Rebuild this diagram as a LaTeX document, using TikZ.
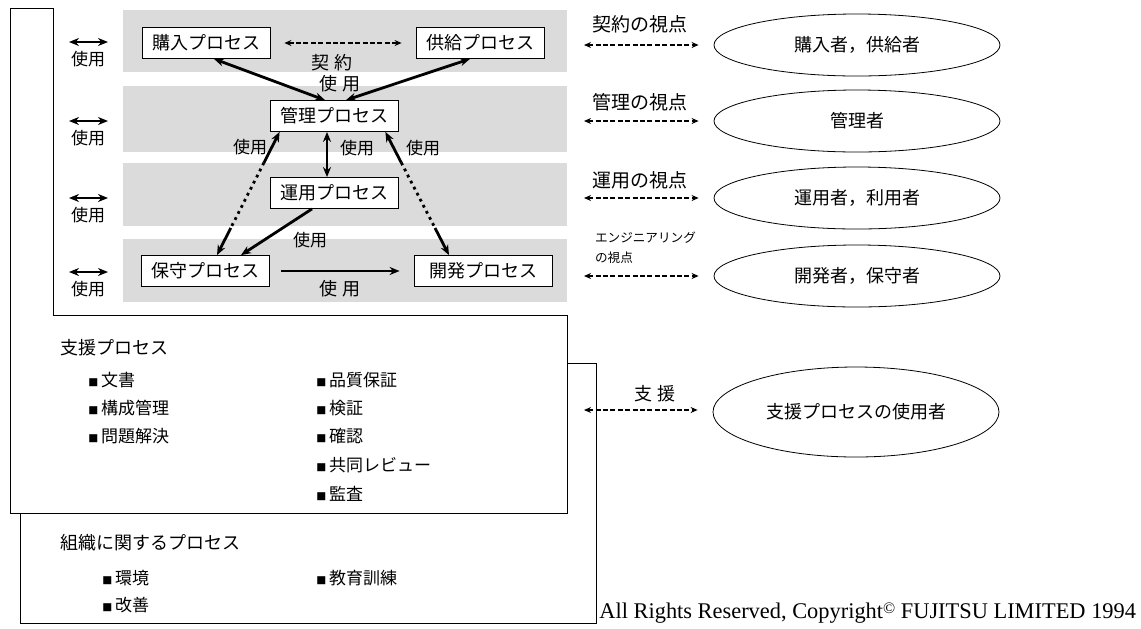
\documentclass[tikz,border=0pt]{standalone}
\usepackage{fontspec}
\setmainfont{Liberation Serif}
\newfontfamily\jp{Noto Sans CJK JP}
\usetikzlibrary{calc,arrows.meta,shapes.geometric}
\newcommand\sq{{\fontsize{5}{5}\selectfont ■}\,}
\newcommand\ProcItem[3]{
  \node[item] (#1) at (#2) {\sq #3};
}
\tikzset{
  proc/.style={draw,fill=white,font=\jp\fontsize{9}{10}\selectfont,minimum height=15.5pt,minimum width=64pt,inner xsep=5pt},
  band/.style={fill=black!14,draw=none},
  use/.style={line width=1.4pt,{Stealth[length=5pt,width=4pt]}-{Stealth[length=5pt,width=4pt]}},
  useone/.style={line width=1.4pt,-{Stealth[length=5pt,width=4pt]}},
  view/.style={line width=1.1pt,dash pattern=on 2.5pt off 1.2pt,{Stealth[length=3.5pt,width=3pt]}-{Stealth[length=3.5pt,width=3pt]}},
  role/.style={draw,ellipse,minimum width=143pt,minimum height=31pt,font=\jp\fontsize{9}{10}\selectfont},
  lbl/.style={font=\jp\fontsize{8.5}{9}\selectfont},
  item/.style={anchor=west,font=\jp\fontsize{8.5}{10}\selectfont,inner sep=0pt},
}
\begin{document}
\begin{tikzpicture}[x=0.5pt,y=-0.5pt]
\useasboundingbox (0,0) rectangle (1141,628);
\fill[white] (0,0) rectangle (1141,628);
% cards
\draw (567,363) -- (596,363) -- (596,623) -- (20,623) -- (20,513);
\draw[fill=white] (53,8) -- (10,8) -- (10,513) -- (567,513) -- (567,315);
\draw (53,8) -- (53,315) -- (567,315);
\foreach \t/\b in {10/72,86/152,163/226,239/302}
  \fill[band] (123,\t) rectangle (567,\b);
% primary processes
\node[proc] (kounyu) at (206,43) {購入プロセス};
\node[proc] (kyoukyu) at (480,43) {供給プロセス};
\node[proc] (kanri) at (334,116) {管理プロセス};
\node[proc] (unyou) at (334,193) {運用プロセス};
\node[proc] (hoshu) at (205,271) {保守プロセス};
\node[proc,minimum width=69pt] (kaihatsu) at (483,271) {開発プロセス};
\draw[view,line width=1.4pt,shorten <=7pt,shorten >=7pt] (kounyu) -- (kyoukyu);
\node[lbl,font=\jp\fontsize{9}{10}\selectfont] (keiyaku) at (332,63) {契 約};
\draw[use] ([xshift=4pt]kounyu.south) -- ([xshift=-4.5pt]kanri.north);
\draw[use] ([xshift=-5pt]kyoukyu.south) -- ([xshift=6pt]kanri.north);
\node[lbl,font=\jp\fontsize{9}{10}\selectfont] (shiyou1) at (340,84) {使 用};
\draw[use] ([xshift=-3.5pt]kanri.south) -- ([xshift=-3.5pt]unyou.north);
\node[lbl] (shiyou2) at (357,148) {使用};
\coordinate (kl) at ([xshift=5pt]kanri.south west);
\coordinate (hl) at ([xshift=6pt]hoshu.north);
\draw[useone] ($(kl)!0.25!(hl)$) -- (kl);
\draw[line width=1.4pt,dotted] ($(kl)!0.25!(hl)$) -- ($(kl)!0.78!(hl)$);
\draw[useone] ($(kl)!0.78!(hl)$) -- (hl);
\node[lbl] (shiyou3) at (250,147) {使用};
\coordinate (kr) at ([xshift=-6.5pt]kanri.south east);
\coordinate (hr) at ([xshift=-17pt]kaihatsu.north);
\draw[useone] ($(kr)!0.25!(hr)$) -- (kr);
\draw[line width=1.4pt,dotted] ($(kr)!0.25!(hr)$) -- ($(kr)!0.78!(hr)$);
\draw[useone] ($(kr)!0.78!(hr)$) -- (hr);
\node[lbl] (shiyou4) at (423,148) {使用};
\draw[useone] ([xshift=-11pt]unyou.south) -- ([xshift=18pt]hoshu.north);
\node[lbl] (shiyou5) at (310,240) {使用};
\draw[useone,shorten <=6pt,shorten >=7pt] (hoshu) -- (kaihatsu);
\node[lbl,font=\jp\fontsize{9}{10}\selectfont] (shiyou6) at (340,289) {使 用};
% use arrows on the left
\foreach \y/\n in {42/a,121/b,198/c,272/d} {
  \coordinate (ul\n) at (69,\y);
  \coordinate (ur\n) at (108,\y);
  \draw[use] (ul\n) -- (ur\n);
  \node[lbl] (ut\n) at (88,\y+17) {使用};
}
% viewpoints
\node[role] (r1) at (857,45) {購入者，供給者};
\node[role] (r2) at (857,121) {管理者};
\node[role] (r3) at (857,198) {運用者，利用者};
\node[role] (r4) at (857,276) {開発者，保守者};
\node[role,minimum height=45pt] (r5) at (856,412) {支援プロセスの使用者};
\foreach \r/\y in {r1/45,r2/121,r3/198,r4/276,r5/410} {
  \coordinate (v\r) at (584,\y);
  \draw[view,shorten >=7.5pt] (v\r) -- (\r.west |- v\r);
}
\node[lbl,font=\jp\fontsize{9.5}{10}\selectfont] (t1) at (640,24) {契約の視点};
\node[lbl,font=\jp\fontsize{9.5}{10}\selectfont] (t2) at (640,102) {管理の視点};
\node[lbl,font=\jp\fontsize{9.5}{10}\selectfont] (t3) at (640,180) {運用の視点};
\node[lbl,font=\jp\fontsize{6.3}{10}\selectfont,align=left,anchor=west] (t4) at (588,248) {エンジニアリング\\の視点};
\node[lbl,font=\jp\fontsize{9}{10}\selectfont] (t5) at (655,394) {支 援};
% support processes
\node[item,font=\jp\fontsize{9}{10}\selectfont] (shien) at (60,348) {支援プロセス};
\ProcItem{bunsho}{88,380}{文書}
\ProcItem{kousei}{88,408}{構成管理}
\ProcItem{mondai}{88,436}{問題解決}
\ProcItem{hinshitsu}{316,380}{品質保証}
\ProcItem{kenshou}{316,408}{検証}
\ProcItem{kakunin}{316,436}{確認}
\ProcItem{review}{316,465}{共同レビュー}
\ProcItem{kansa}{316,494}{監査}
% organizational processes
\node[item,font=\jp\fontsize{9}{10}\selectfont] (soshiki) at (60,543) {組織に関するプロセス};
\ProcItem{kankyou}{102,578}{環境}
\ProcItem{kaizen}{102,605}{改善}
\ProcItem{kyouiku}{316,578}{教育訓練}
\node[anchor=south west,inner sep=0pt,font=\fontsize{11.2}{12}\selectfont] (copy) at (599,624) {All Rights Reserved, Copyright\raisebox{2.5pt}{\fontsize{8}{8}\selectfont\textcopyright} FUJITSU LIMITED 1994};
\end{tikzpicture}
\end{document}
